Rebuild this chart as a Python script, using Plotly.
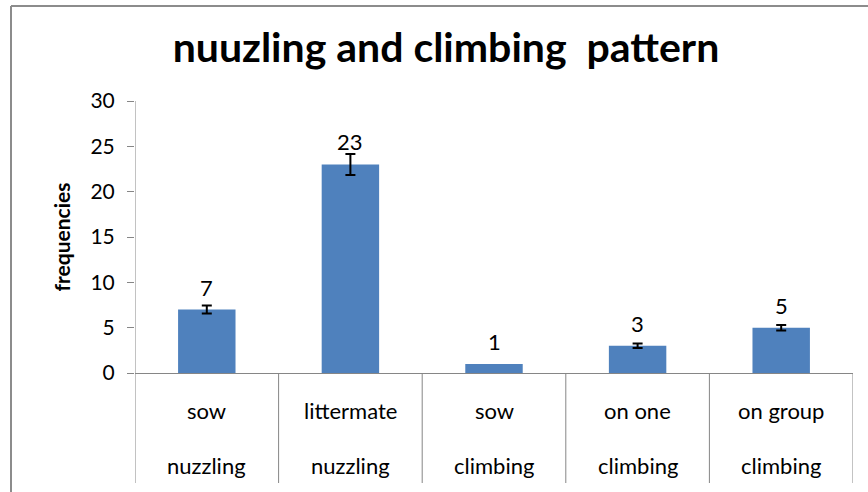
import plotly.graph_objects as go

W, H = 868, 492
L, R, T, B = 135, 15, 101, 119

top_labels = ["sow", "littermate", "sow", "on one", "on group"]
bottom_labels = ["nuzzling", "nuzzling", "climbing", "climbing", "climbing"]
values = [7, 23, 1, 3, 5]
errors = [0.45, 1.15, None, 0.25, 0.3]

BLUE = "#4F81BD"
GRID = "#868686"
_FONT = dict(family="Lato, 'Open Sans', sans-serif", size=22, color="#000000")

x = list(range(len(values)))
pw, ph = W - L - R, H - T - B


def px_x(p):
    return (p - L) / pw


def px_y(p):
    return (H - B - p) / ph


fig = go.Figure(
    go.Bar(
        x=x,
        y=values,
        width=0.4,
        marker=dict(color=BLUE, line=dict(width=0)),
        showlegend=False,
        hoverinfo="skip",
    )
)

# error bars only where the source has them
ex = [xi for xi, e in zip(x, errors) if e is not None]
ey = [v for v, e in zip(values, errors) if e is not None]
ee = [e for e in errors if e is not None]
fig.add_trace(
    go.Scatter(
        x=ex,
        y=ey,
        mode="markers",
        marker=dict(size=1, opacity=0),
        error_y=dict(type="data", array=ee, visible=True, color="#000000", thickness=2, width=5),
        showlegend=False,
        hoverinfo="skip",
    )
)

# value labels above bars
for xi, v in zip(x, values):
    fig.add_annotation(x=xi, y=v, text=str(v), showarrow=False, yanchor="bottom", yshift=7,
                       font=_FONT)

# two-level category labels
for xi, t, b in zip(x, top_labels, bottom_labels):
    fig.add_annotation(x=xi, y=px_y(410), yref="paper", yanchor="middle", text=t,
                       showarrow=False, font=_FONT)
    fig.add_annotation(x=xi, y=px_y(465), yref="paper", yanchor="middle", text=b,
                       showarrow=False, font=_FONT)

# category separators (and y-axis extension)
for k in range(len(values) + 1):
    fig.add_shape(type="line", xref="x", yref="paper", x0=k - 0.5, x1=k - 0.5,
                  y0=1 if k == 0 else 0, y1=px_y(483), line=dict(color=GRID, width=1))

# outer chart border (left + top)
fig.add_shape(type="line", xref="paper", yref="paper", x0=px_x(11), x1=px_x(11),
              y0=px_y(6), y1=px_y(H), line=dict(color="#8c8c8c", width=2))
fig.add_shape(type="line", xref="paper", yref="paper", x0=px_x(11), x1=px_x(W),
              y0=px_y(6), y1=px_y(6), line=dict(color="#8c8c8c", width=2))

fig.update_layout(
    width=W,
    height=H,
    margin=dict(l=L, r=R, t=T, b=B, autoexpand=False),
    paper_bgcolor="white",
    plot_bgcolor="white",
    font=_FONT,
    title=dict(text="<b>nuuzling and climbing  pattern</b>", x=446 / W, xanchor="center",
               y=1 - 48 / H, yanchor="middle", font=dict(size=41, color="#000000")),
    xaxis=dict(range=[-0.5, len(values) - 0.5], showticklabels=False, showgrid=False,
               zeroline=False, showline=True, linecolor=GRID, linewidth=1, ticks=""),
    yaxis=dict(range=[0, 30], dtick=5, showgrid=False, zeroline=False, showline=False,
               ticks="outside", ticklen=7, tickcolor=GRID, ticklabelstandoff=8,
               tickfont=dict(size=21, color="#000000"),
               title=dict(text="<b>frequencies</b>", font=dict(size=21), standoff=14)),
)

# drop the default body margin so the figure sits at the window origin
fig.write_html("out.html", config={"displayModeBar": False},
               post_script="document.body.style.margin='0';")
